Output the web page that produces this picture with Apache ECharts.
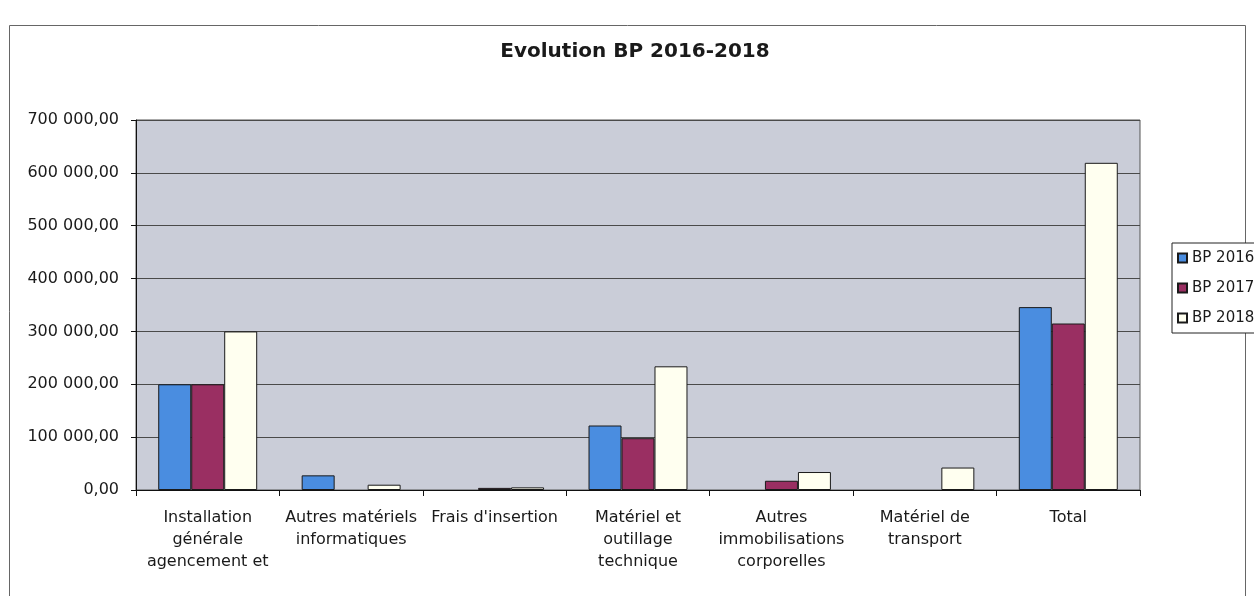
<!DOCTYPE html>
<html>
<head>
<meta charset="utf-8">
<script src="https://cdn.jsdelivr.net/npm/echarts@6/dist/echarts.min.js"></script>
<style>
  html, body { margin: 0; padding: 0; background: #ffffff; }
  #chart { width: 1254px; height: 596px; }
</style>
</head>
<body>
<div id="chart"></div>
<script>
const categories = [
  "Installation générale agencement et",
  "Autres matériels informatiques",
  "Frais d'insertion",
  "Matériel et outillage technique",
  "Autres immobilisations corporelles",
  "Matériel de transport",
  "Total"
];
const categoryLabels = [
  "Installation\ngénérale\nagencement et",
  "Autres matériels\ninformatiques",
  "Frais d'insertion",
  "Matériel et\noutillage\ntechnique",
  "Autres\nimmobilisations\ncorporelles",
  "Matériel de\ntransport",
  "Total"
];
const seriesNames = ["BP 2016", "BP 2017", "BP 2018"];
// null = empty cell (no bar drawn)
const bp2016 = [200000, 27700, null, 122000, null, null, 346000];
const bp2017 = [200000, null, 4000, 98000, 17500, null, 315000];
const bp2018 = [300000, 10000, 5000, 234000, 34000, 42500, 619000];
const yTicks = [0, 100000, 200000, 300000, 400000, 500000, 600000, 700000];

const FONT = "DejaVu Sans";
const colors = ["#4a8de0", "#9a2f62", "#fffff0"];

function fmt(v) {
  const s = Math.round(v).toString().replace(/\B(?=(\d{3})+(?!\d))/g, " ");
  return s + ",00";
}

const chart = echarts.init(document.getElementById("chart"), null, { renderer: "canvas" });
const labelMap = {};
categories.forEach((c, i) => { labelMap[c] = categoryLabels[i]; });

const values = [bp2016, bp2017, bp2018];
chart.setOption({
  animation: false,
  backgroundColor: "#ffffff",
  graphic: [{
    type: "rect",
    shape: { x: 9.5, y: 25.5, width: 1236, height: 580 },
    style: { fill: "none", stroke: "#666", lineWidth: 1 },
    silent: true,
    z: -10
  }],
  title: {
    text: "Evolution BP 2016-2018",
    left: 630, textAlign: "center",
    top: 37,
    textStyle: { fontFamily: FONT, fontWeight: "bold", fontSize: 20, color: "#1a1a1a" }
  },
  legend: {
    orient: "vertical",
    left: 1172, top: 243,
    padding: [6, 6, 6, 5],
    icon: "rect",
    itemWidth: 9, itemHeight: 9,
    itemGap: 12,
    borderColor: "#222", borderWidth: 1,
    backgroundColor: "#ffffff",
    textStyle: { fontFamily: FONT, fontSize: 15, color: "#1a1a1a", lineHeight: 18 },
    data: seriesNames
  },
  grid: {
    left: 136, right: 114, top: 120, bottom: 106,
    show: true, backgroundColor: "#cacdd8", borderColor: "#555", borderWidth: 1
  },
  xAxis: {
    type: "category",
    data: categories,
    axisLine: { lineStyle: { color: "#111", width: 1 } },
    axisTick: { show: true, length: 6, lineStyle: { color: "#111" } },
    axisLabel: {
      interval: 0, margin: 17,
      fontFamily: FONT, fontSize: 16, color: "#1a1a1a", lineHeight: 22,
      formatter: v => labelMap[v]
    }
  },
  yAxis: {
    type: "value",
    min: yTicks[0], max: yTicks[yTicks.length - 1], interval: 100000,
    axisLine: { show: true, lineStyle: { color: "#111", width: 1 } },
    axisTick: { show: true, length: 5, lineStyle: { color: "#111" } },
    splitLine: { show: true, lineStyle: { color: "#4a4a4a", width: 1 } },
    axisLabel: {
      margin: 17, fontFamily: FONT, fontSize: 16, color: "#1a1a1a",
      formatter: v => fmt(v)
    }
  },
  series: seriesNames.map((name, i) => ({
    name: name,
    type: "bar",
    data: values[i],
    barGap: "0%",
    barCategoryGap: "31%",
    itemStyle: { color: colors[i], borderColor: "#1a1a1a", borderWidth: 1 }
  }))
});
</script>
</body>
</html>
